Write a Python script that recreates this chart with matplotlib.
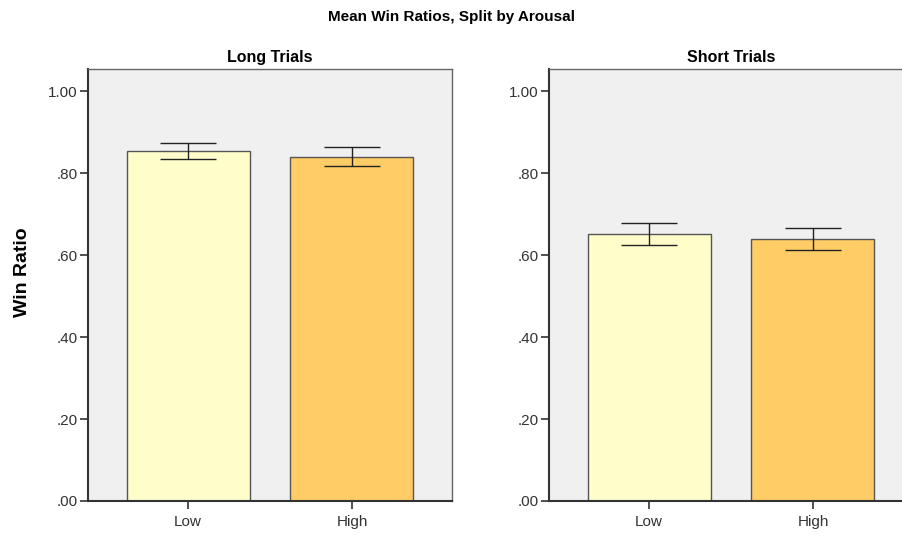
import matplotlib
matplotlib.use("Agg")
import matplotlib.pyplot as plt
import numpy as np

plt.rcParams['font.family'] = ['Liberation Sans', 'DejaVu Sans']

categories = ["Low", "High"]
panels = ["Long Trials", "Short Trials"]
means = {"Long Trials": [0.854, 0.839], "Short Trials": [0.651, 0.639]}
err_low = {"Long Trials": [0.834, 0.817], "Short Trials": [0.624, 0.612]}
err_high = {"Long Trials": [0.873, 0.863], "Short Trials": [0.678, 0.666]}
yticks = [0.0, 0.2, 0.4, 0.6, 0.8, 1.0]
ytick_labels = [".00", ".20", ".40", ".60", ".80", "1.00"]
colors = ["#FFFDC9", "#FFCC66"]

fig = plt.figure(figsize=(9.03, 5.36), dpi=100)
fig.text(0.5, 1 - 17/536, "Mean Win Ratios, Split by Arousal", ha="center", va="center",
         fontsize=11, fontweight="bold")

lefts = [88/903, 549/903]
w = 364/903
b = (536-501)/536
h = 432/536
for i, p in enumerate(panels):
    ax = fig.add_axes([lefts[i], b, w, h])
    ax.set_facecolor("#F0F0F0")
    x = np.arange(len(categories))
    m = np.array(means[p])
    lo = m - np.array(err_low[p])
    hi = np.array(err_high[p]) - m
    ax.bar(x, m, width=0.75, color=colors, edgecolor="#555555", linewidth=1.0, zorder=2)
    ax.errorbar(x, m, yerr=[lo, hi], fmt="none", ecolor="#222222", elinewidth=1.0,
                capsize=20, capthick=1.0, zorder=3)
    ax.set_xlim(-0.61, 1.61)
    ax.set_ylim(0, 1.054)
    ax.set_yticks(yticks)
    ax.set_yticklabels(ytick_labels)
    ax.set_xticks(x)
    ax.set_xticklabels(categories)
    ax.tick_params(axis="both", direction="out", length=6, width=1.2, color="#333333",
                   labelsize=11, labelcolor="#333333", pad=1.5)
    ax.tick_params(axis="x", pad=4)
    for s in ax.spines.values():
        s.set_color("#666666")
        s.set_linewidth(1.0)
    ax.spines["left"].set_color("#333333")
    ax.spines["left"].set_linewidth(1.5)
    ax.spines["bottom"].set_color("#333333")
    ax.spines["bottom"].set_linewidth(1.5)
    ax.set_title(p, fontsize=11.5, fontweight="bold", pad=5)
    if i == 0:
        ax.set_ylabel("Win Ratio", fontsize=14, fontweight="bold")
        ax.yaxis.set_label_coords(-0.157, 0.53)

fig.savefig("out.png", dpi=100)
